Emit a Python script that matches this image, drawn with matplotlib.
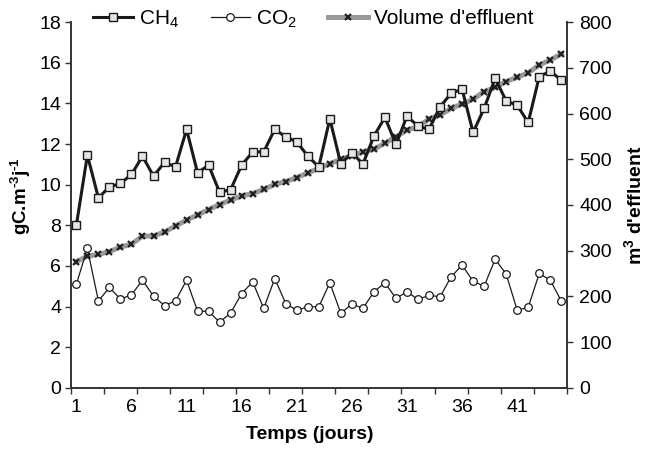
import numpy as np
import matplotlib.pyplot as plt
from matplotlib.ticker import FixedLocator

plt.rcParams['font.family'] = 'Liberation Sans'
plt.rcParams['mathtext.fontset'] = 'custom'
plt.rcParams['mathtext.rm'] = 'Liberation Sans'
plt.rcParams['mathtext.bf'] = 'Liberation Sans:bold'
plt.rcParams['mathtext.default'] = 'rm'

days = np.arange(1, 46)
ch4 = [8.0, 11.45, 9.35, 9.89, 10.06, 10.5, 11.4, 10.42, 11.09, 10.88,
       12.72, 10.58, 10.96, 9.62, 9.76, 10.96, 11.61, 11.61, 12.72, 12.35,
       12.11, 11.4, 10.88, 13.24, 11.01, 11.58, 11.01, 12.39, 13.31, 11.98,
       13.37, 12.88, 12.72, 13.83, 14.49, 14.7, 12.57, 13.75, 15.23, 14.12,
       13.9, 13.06, 15.31, 15.59, 15.14]
co2 = [5.10, 6.86, 4.28, 4.94, 4.37, 4.58, 5.30, 4.51, 4.05, 4.28,
       5.30, 3.77, 3.77, 3.23, 3.69, 4.64, 5.22, 3.91, 5.38, 4.15,
       3.82, 3.99, 3.99, 5.17, 3.67, 4.13, 3.91, 4.73, 5.17, 4.40,
       4.73, 4.35, 4.56, 4.48, 5.46, 6.04, 5.25, 5.00, 6.33, 5.60,
       3.82, 3.96, 5.63, 5.30, 4.28]
volume = [276, 288, 292, 298, 308, 314, 332, 332, 341, 354,
          367, 378, 390, 401, 411, 420, 425, 434, 445, 451,
          460, 470, 480, 490, 500, 508, 516, 522, 535, 549,
          564, 571, 588, 597, 611, 621, 631, 648, 657, 670,
          679, 689, 706, 717, 730]

fig = plt.figure(figsize=(6.56, 4.5), dpi=100)
ax1 = fig.add_axes([0.108, 0.138, 0.756, 0.813])
ax2 = ax1.twinx()
ax1.set_zorder(ax2.get_zorder() + 1)
ax1.patch.set_visible(False)

l3, = ax2.plot(days, volume, color='#999999', lw=3.6, marker='x', ms=4,
               mec='#222222', mew=1.6, label="Volume d'effluent")
l1, = ax1.plot(days, ch4, color='#1a1a1a', lw=2.2, marker='s', ms=5.5,
               mfc='#e6e6e6', mec='#1a1a1a', mew=1.0, label='CH$_4$')
l2, = ax1.plot(days, co2, color='#1a1a1a', lw=0.9, marker='o', ms=5.5,
               mfc='white', mec='#1a1a1a', mew=0.9, label='CO$_2$')

ax1.set_xlim(0.5, 45.5)
ax1.set_ylim(0, 18)
ax2.set_ylim(0, 800)
ax1.set_yticks(np.arange(0, 19, 2))
ax2.set_yticks(np.arange(0, 801, 100))
ax1.set_xticks(np.arange(1, 42, 5))
ax1.xaxis.set_minor_locator(FixedLocator(np.arange(0.5, 46, 3)))
ax1.tick_params(axis='x', which='major', length=0, pad=8, labelsize=14)
ax1.tick_params(axis='x', which='minor', length=4, width=1, color='#333333')
ax1.tick_params(axis='y', length=4, width=1, pad=3, labelsize=14, color='#333333')
ax2.tick_params(axis='y', length=4, width=1, pad=5, labelsize=14, color='#333333')

for ax in (ax1, ax2):
    ax.spines['top'].set_visible(False)
    for s in ('left', 'right', 'bottom'):
        ax.spines[s].set_linewidth(1.2)
        ax.spines[s].set_color('#333333')

ax1.set_xlabel('Temps (jours)', fontsize=14, fontweight='bold')
ax1.xaxis.set_label_coords(0.482, -0.105)
ax1.set_ylabel('gC.m$^{\\mathbf{\u20103}}$j$^{\\mathbf{\u20101}}$',
               fontsize=13.5, fontweight='bold')
ax1.yaxis.set_label_coords(-0.077, 0.525)
ax2.set_ylabel(r"m$^\mathbf{3}$ d'effluent", fontsize=14, fontweight='bold', labelpad=8)

fig.legend(handles=[l1, l2, l3], loc='center', bbox_to_anchor=(0.478, 0.958),
           ncol=3, frameon=False, fontsize=15, handlelength=1.9,
           handletextpad=0.3, columnspacing=1.5)

fig.savefig('out.png', dpi=100)
